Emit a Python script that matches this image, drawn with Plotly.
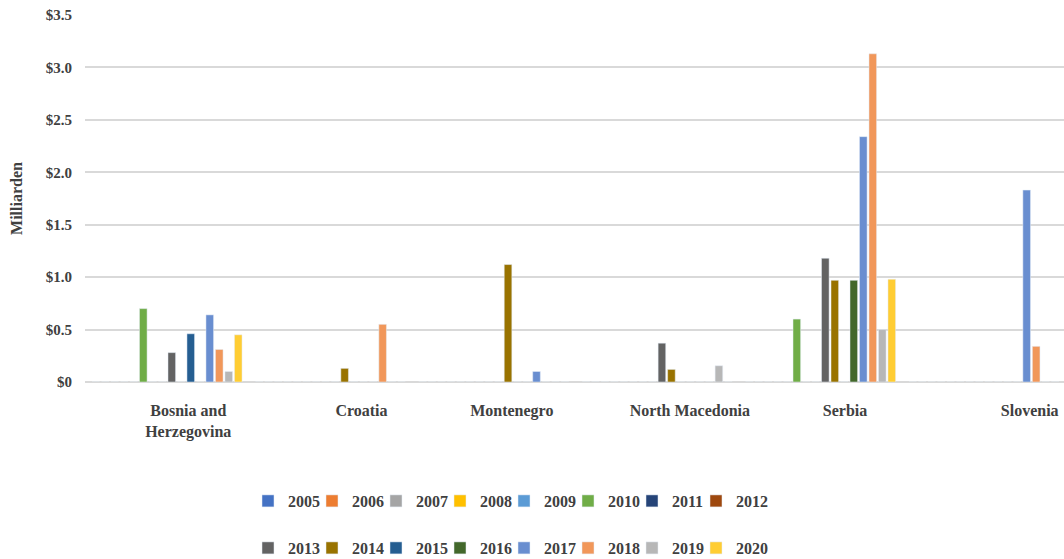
import plotly.graph_objects as go

countries = ["Bosnia and<br>Herzegovina", "Croatia", "Montenegro", "North Macedonia", "Serbia", "Slovenia"]
years = [str(y) for y in range(2005, 2021)]

# values in billions USD, one list per year (order follows countries)
v2005 = [0, 0, 0, 0, 0, 0]
v2006 = [0, 0, 0, 0, 0, 0]
v2007 = [0, 0, 0, 0, 0, 0]
v2008 = [0, 0, 0, 0, 0, 0]
v2009 = [0, 0, 0, 0, 0, 0]
v2010 = [0.70, 0, 0, 0, 0.60, 0]
v2011 = [0, 0, 0, 0, 0, 0]
v2012 = [0, 0, 0, 0, 0, 0]
v2013 = [0.28, 0, 0, 0.37, 1.18, 0]
v2014 = [0, 0.13, 1.12, 0.12, 0.97, 0]
v2015 = [0.46, 0, 0, 0, 0, 0]
v2016 = [0, 0, 0, 0, 0.97, 0]
v2017 = [0.64, 0, 0.10, 0, 2.34, 1.83]
v2018 = [0.31, 0.55, 0, 0, 3.13, 0.34]
v2019 = [0.10, 0, 0, 0.155, 0.50, 0]
v2020 = [0.45, 0, 0, 0, 0.98, 0]

values = [v2005, v2006, v2007, v2008, v2009, v2010, v2011, v2012,
          v2013, v2014, v2015, v2016, v2017, v2018, v2019, v2020]

colors = ["#4472C4", "#ED7D31", "#A5A5A5", "#FFC000", "#5B9BD5", "#70AD47", "#264478", "#9E480E",
          "#636363", "#997300", "#255E91", "#43682B", "#698ED0", "#F1975A", "#B7B7B7", "#FFCD33"]

ytick_vals = [0, 0.5, 1.0, 1.5, 2.0, 2.5, 3.0, 3.5]
ytick_text = ["$0", "$0.5", "$1.0", "$1.5", "$2.0", "$2.5", "$3.0", "$3.5"]

# label positions are offset from the group centres in the original
label_pos = [0.13, 1.19, 2.11, 3.20, 4.15, 5.28]
xpos = list(range(len(countries)))

font_family = "Liberation Serif"
txt_color = "#404040"

fig = go.Figure()
for i, (yr, vals, col) in enumerate(zip(years, values, colors)):
    fig.add_trace(go.Bar(x=xpos, y=vals, name=yr, marker_color=col,
                         legend="legend" if i < 8 else "legend2"))

# blank spacer entries so the last legend labels are not clipped
for lg in ["legend", "legend2"]:
    fig.add_trace(go.Scatter(x=[None], y=[None], mode="markers", name=" ",
                             marker=dict(color="rgba(0,0,0,0)", size=1), legend=lg,
                             hoverinfo="skip"))

legend_style = dict(orientation="h", xanchor="left", xref="container", yref="container",
                    yanchor="middle",
                    font=dict(family=font_family, size=16, color=txt_color, weight="bold"),
                    entrywidth=19, itemwidth=30, bgcolor="rgba(0,0,0,0)")

fig.update_layout(
    barmode="group",
    bargap=0.07,
    bargroupgap=0.2,
    width=1064, height=559,
    margin=dict(l=85, r=0, t=15, b=177, autoexpand=False),
    plot_bgcolor="white", paper_bgcolor="white",
    font=dict(family=font_family, size=15, color=txt_color, weight="bold"),
    xaxis=dict(range=[-0.502, 5.49], tickvals=label_pos, ticktext=countries,
               showgrid=False, zeroline=False, showline=False, ticks="",
               tickfont=dict(size=16), automargin=False, ticklabelstandoff=17),
    yaxis=dict(range=[0, 3.5], tickvals=ytick_vals, ticktext=ytick_text,
               gridcolor="#D9D9D9", gridwidth=1.5, zeroline=True, zerolinecolor="#D9D9D9",
               zerolinewidth=1.5, ticks="", ticklabelstandoff=12, automargin=False,
               title=dict(text="Milliarden", standoff=19, font=dict(size=16))),
    legend=dict(x=(262 - 14) / 1064, y=1 - 501 / 559, **legend_style),
    legend2=dict(x=(262 - 14) / 1064, y=1 - 548 / 559, **legend_style),
)

fig.write_html("out.html", config={"displayModeBar": False},
               post_script="document.body.style.margin='0';document.body.style.overflow='hidden';")
